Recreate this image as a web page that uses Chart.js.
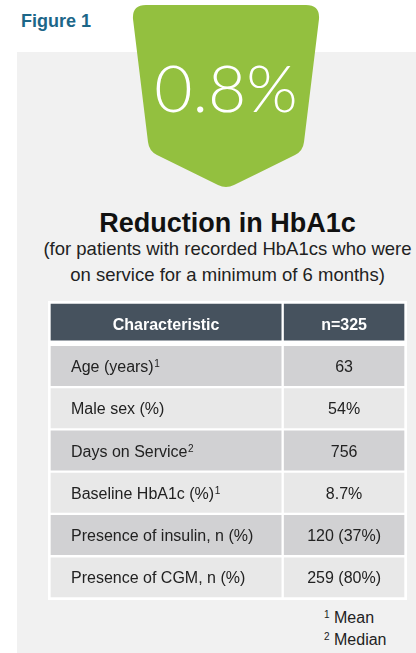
<!DOCTYPE html>
<html>
<head>
<meta charset="utf-8">
<script src="https://cdn.jsdelivr.net/npm/chart.js@4/dist/chart.umd.min.js"></script>
<style>
  body { margin: 0; width: 416px; height: 653px; background: #fff; position: relative; overflow: hidden; font-family: "Liberation Sans", Arial, sans-serif; }
  .painel { position: absolute; left: 17px; top: 52px; width: 399px; height: 601px; background: #f1f1f1; }
  .figura { position: absolute; left: 21px; top: 12px; font-size: 18px; font-weight: bold; color: #1c6688; line-height: 18px; }
  .selo { position: absolute; left: 0; top: 0; }
  .valor { position: absolute; left: 0; width: 452px; top: 54px; text-align: center; font-family: Lato, "Open Sans", sans-serif; font-weight: 300; font-size: 66px; line-height: 66px; color: #fff; }
  .titulo { position: absolute; left: 48px; width: 359px; top: 210px; text-align: center; font-size: 27px; font-weight: bold; line-height: 27px; color: #111; }
  .sub { position: absolute; left: 38px; width: 379px; top: 236px; text-align: center; font-size: 18.5px; line-height: 26px; color: #222; }
  #tabela { position: absolute; left: 48px; top: 301px; background: #fff; }
  .nota { position: absolute; left: 324px; font-size: 16px; line-height: 16px; color: #222; }
  .nota sup { font-size: 10px; vertical-align: 5px; line-height: 0; }
</style>
</head>
<body>
<div class="painel"></div>
<div class="figura">Figure 1</div>
<svg class="selo" width="416" height="200">
  <path d="M 146 5 H 306 Q 320 5 319 19 L 304 142 Q 303 151 295 155 L 234 185 Q 226 189 218 185 L 157 155 Q 149 151 148 142 L 133 19 Q 132 5 146 5 Z" fill="#93c03f"/>
</svg>
<div class="valor" id="valor"></div>
<div class="titulo">Reduction in HbA1c</div>
<div class="sub">(for patients with recorded HbA1cs who were<br>on service for a minimum of 6 months)</div>
<canvas id="tabela" width="359" height="299"></canvas>
<div class="nota" style="top:610px"><sup>1</sup> Mean</div>
<div class="nota" style="top:632px"><sup>2</sup> Median</div>

<script>
// dados da figura
const reducao = '0.8%'
const cabecalhos = ['Characteristic', 'n=325']
const caracteristicas = ['Age (years)¹', 'Male sex (%)', 'Days on Service²', 'Baseline HbA1c (%)¹', 'Presence of insulin, n (%)', 'Presence of CGM, n (%)']
const valores = ['63', '54%', '756', '8.7%', '120 (37%)', '259 (80%)']

document.getElementById('valor').textContent = reducao

const linhas = [cabecalhos[0], ...caracteristicas]
const colunaValores = [cabecalhos[1], ...valores]
const divisao = 0.655
const fonte = '"Liberation Sans", Arial, sans-serif'

const corLinha = (c) => c.dataIndex === 0 ? '#46525e' : (c.dataIndex % 2 ? '#d1d1d3' : '#e8e8e8')
const bordaLinha = (c) => c.dataIndex === 0 ? { top: 1.5, bottom: 4.5, left: 1.5, right: 1.5 } : 1.5
const sobrescritos = { '¹': '1', '²': '2' }

// escreve o texto de cada celula no centro da barra
const textoCelulas = {
  id: 'textoCelulas',
  afterDatasetsDraw(chart) {
    const g = chart.ctx
    chart.data.datasets.forEach((ds, i) => {
      chart.getDatasetMeta(i).data.forEach((barra, j) => {
        const esq = Math.min(barra.x, barra.base)
        const dir = Math.max(barra.x, barra.base)
        let texto = i === 0 ? linhas[j] : colunaValores[j]
        g.save()
        g.font = (j === 0 ? 'bold ' : '') + '16px ' + fonte
        g.fillStyle = j === 0 ? '#ffffff' : '#222222'
        g.textBaseline = 'alphabetic'
        const base = barra.y + 6
        if (i === 0 && j > 0) {
          const ultimo = texto.slice(-1)
          let sup = null
          if (sobrescritos[ultimo]) {
            sup = sobrescritos[ultimo]
            texto = texto.slice(0, -1)
          }
          g.textAlign = 'left'
          g.fillText(texto, esq + 21.5, base)
          if (sup) {
            const w = g.measureText(texto).width
            g.font = '10px ' + fonte
            g.fillText(sup, esq + 22 + w, base - 5)
          }
        } else {
          g.textAlign = 'center'
          g.fillText(texto, (esq + dir) / 2, base)
        }
        g.restore()
      })
    })
  }
}

const ctx = document.getElementById('tabela')

new Chart(ctx, {
  type: 'bar',
  data: {
    labels: linhas,
    datasets: [{
      label: cabecalhos[0],
      data: linhas.map(() => [0, divisao]),
      backgroundColor: corLinha,
      borderColor: '#ffffff',
      borderWidth: bordaLinha,
      borderSkipped: false,
      grouped: false,
      categoryPercentage: 1,
      barPercentage: 1
    }, {
      label: cabecalhos[1],
      data: linhas.map(() => [divisao, 1]),
      backgroundColor: corLinha,
      borderColor: '#ffffff',
      borderWidth: bordaLinha,
      borderSkipped: false,
      grouped: false,
      categoryPercentage: 1,
      barPercentage: 1
    }]
  },
  options: {
    indexAxis: 'y',
    responsive: false,
    animation: false,
    layout: { padding: 1.5 },
    plugins: {
      legend: { display: false },
      tooltip: { enabled: false }
    },
    scales: {
      x: { display: false, min: 0, max: 1 },
      y: { display: false }
    }
  },
  plugins: [textoCelulas]
});
</script>
</body>
</html>
